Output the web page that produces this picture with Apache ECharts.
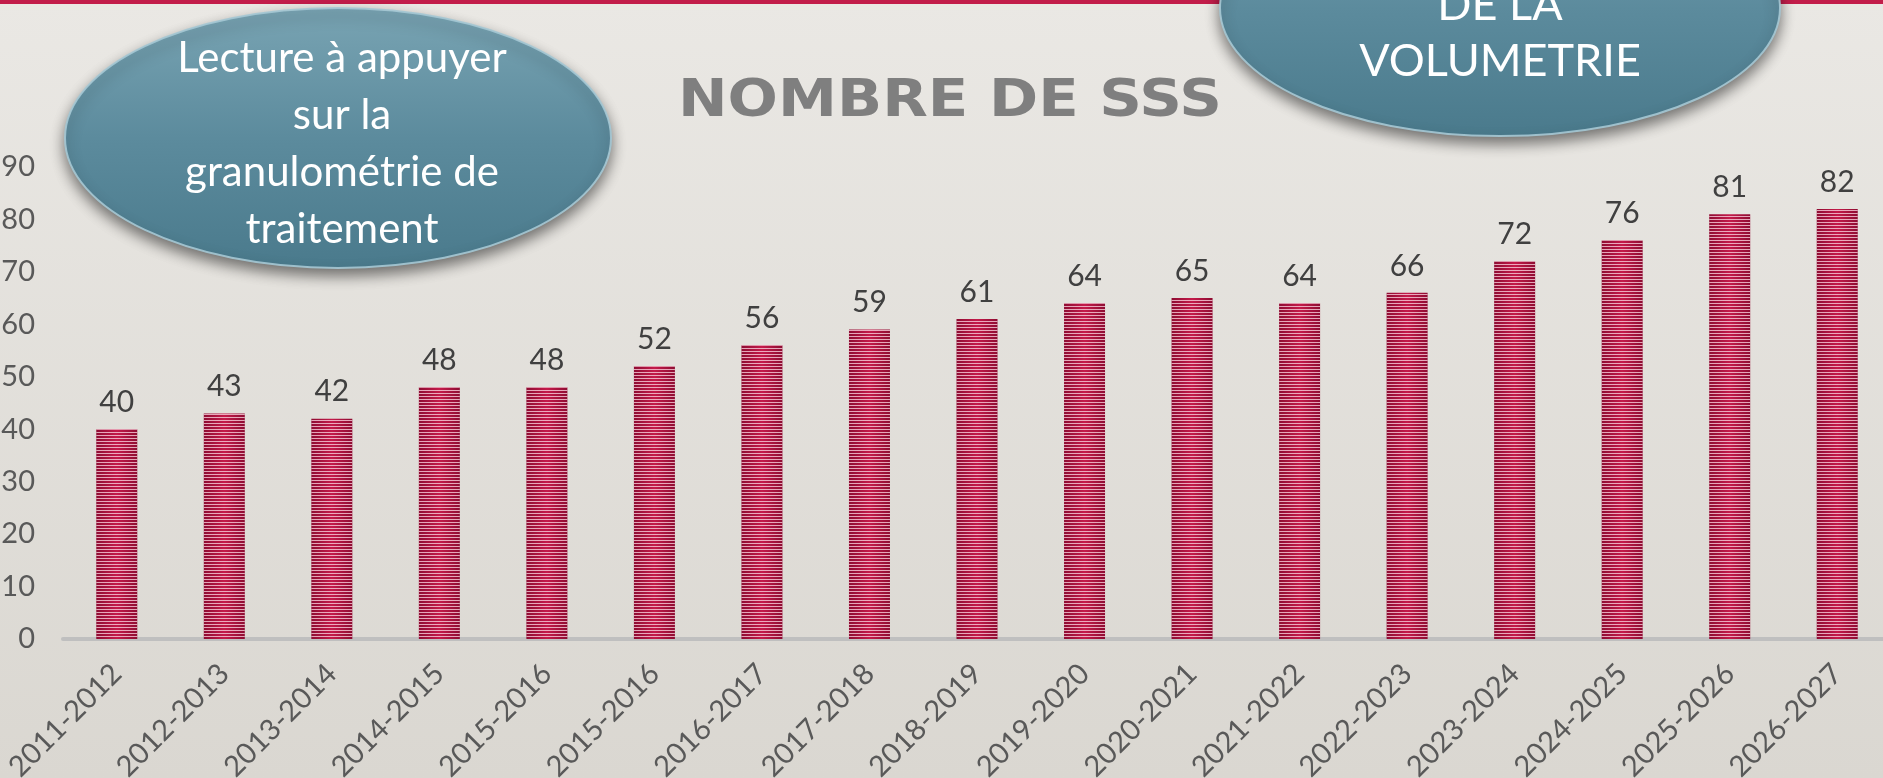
<!DOCTYPE html>
<html>
<head>
<meta charset="utf-8">
<title>Nombre de SSS</title>
<script src="https://cdn.jsdelivr.net/npm/echarts@6/dist/echarts.min.js"></script>
<style>
  html, body { margin: 0; padding: 0; }
  #chartBox { width: 1883px; height: 778px; }
</style>
</head>
<body>
<div id="chartBox"></div>
<script>
  // années scolaires (la 6e étiquette est bien dupliquée sur l'original)
  const categories = [
    '2011-2012', '2012-2013', '2013-2014', '2014-2015', '2015-2016', '2015-2016',
    '2016-2017', '2017-2018', '2018-2019', '2019-2020', '2020-2021', '2021-2022',
    '2022-2023', '2023-2024', '2024-2025', '2025-2026', '2026-2027'
  ];
  // nombre de SSS par année
  const sssCounts = [40, 43, 42, 48, 48, 52, 56, 59, 61, 64, 65, 64, 66, 72, 76, 81, 82];
  // graduation axe Y
  const yMin = 0;
  const yMax = 90;
  const yStep = 10;
  // textes
  const chartTitle = 'NOMBRE DE SSS';
  const bubbleLeftText = 'Lecture à appuyer\nsur la\ngranulométrie de\ntraitement';
  const bubbleRightText = 'DE LA\nVOLUMETRIE';

  const fontMain = 'Lato, "Open Sans", sans-serif';

  function bubble (cx, cy, rx, ry) {
    return {
      type: 'ellipse',
      z: 10,
      shape: {cx: cx, cy: cy, rx: rx, ry: ry},
      style: {
        fill: new echarts.graphic.LinearGradient(0, 0, 0, 1, [
          {offset: 0, color: '#79a4b3'},
          {offset: 0.5, color: '#5c8b9d'},
          {offset: 1, color: '#4a7a8c'}
        ]),
        stroke: 'rgba(165,200,212,0.9)',
        lineWidth: 2,
        shadowBlur: 14,
        shadowOffsetY: 7,
        shadowColor: 'rgba(0,0,0,0.5)'
      }
    };
  }

  function bubbleText (x, y, text, size, lineHeight) {
    return {
      type: 'text',
      z: 11,
      style: {
        text: text,
        x: x,
        y: y,
        align: 'center',
        verticalAlign: 'middle',
        fill: '#ffffff',
        fontSize: size,
        fontFamily: fontMain,
        lineHeight: lineHeight
      }
    };
  }

  const myChart = echarts.init(document.getElementById('chartBox'));

  const opt = {
    backgroundColor: new echarts.graphic.LinearGradient(0, 0, 0, 1, [
      {offset: 0, color: '#eae8e4'},
      {offset: 1, color: '#dad7d1'}
    ]),
    animation: false,
    grid: {
      left: 63,
      top: 167,
      width: 1828,
      height: 472,
      containLabel: false,
      outerBoundsMode: 'none'
    },
    xAxis: {
      type: 'category',
      data: categories,
      axisLine: {lineStyle: {color: '#bfbfbf', width: 4}},
      axisTick: {show: false},
      axisLabel: {
        interval: 0,
        rotate: 45,
        margin: 30,
        color: '#595959',
        fontSize: 29,
        fontFamily: fontMain
      }
    },
    yAxis: {
      type: 'value',
      min: yMin,
      max: yMax,
      interval: yStep,
      axisLine: {show: false},
      axisTick: {show: false},
      splitLine: {show: false},
      axisLabel: {
        margin: 28,
        color: '#595959',
        fontSize: 29,
        fontFamily: fontMain
      }
    },
    graphic: [
      {
        type: 'rect',
        z: 5,
        shape: {x: 0, y: 0, width: 1883, height: 4},
        style: {fill: '#c21d4a'}
      },
      // titre élargi (lettres espacées sur l'original)
      {
        type: 'text',
        z: 5,
        x: 950,
        y: 102,
        scaleX: 1.14,
        style: {
          text: chartTitle,
          x: 0,
          y: 0,
          align: 'center',
          verticalAlign: 'middle',
          fill: '#7f7f7f',
          fontSize: 52,
          fontWeight: 'bold',
          fontFamily: '"DejaVu Sans", sans-serif'
        }
      },
      bubble(338, 138, 273, 130),
      bubbleText(342, 144, bubbleLeftText, 42, 57),
      bubble(1500, 8, 280, 128),
      bubbleText(1500, 33, bubbleRightText, 45, 56)
    ],
    series: [
      {
        name: 'SSS',
        type: 'bar',
        data: sssCounts,
        barWidth: 41,
        itemStyle: {
          color: new echarts.graphic.LinearGradient(0, 0, 1, 0, [
            {offset: 0, color: '#8e0c32'},
            {offset: 0.5, color: '#c41a4a'},
            {offset: 1, color: '#8e0c32'}
          ]),
          decal: {
            symbol: 'rect',
            symbolSize: 1,
            dashArrayX: [1, 0],
            dashArrayY: [1, 2],
            rotation: 0,
            color: 'rgba(248,205,218,0.8)'
          }
        },
        label: {
          show: true,
          position: 'top',
          distance: 12,
          color: '#404040',
          fontSize: 30,
          fontFamily: fontMain
        }
      }
    ]
  };

  myChart.setOption(opt);
</script>
</body>
</html>
